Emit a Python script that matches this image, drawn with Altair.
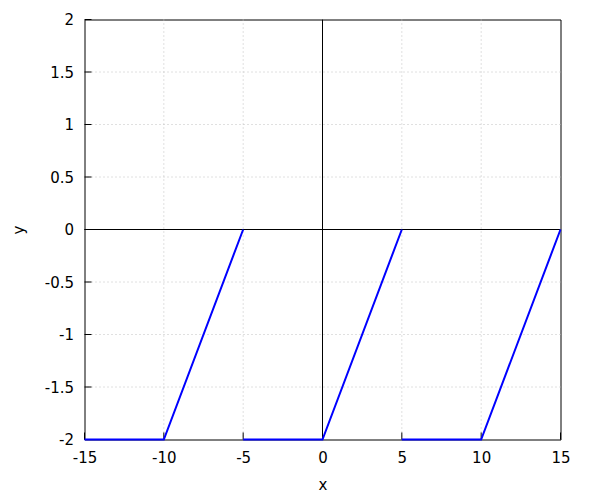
import altair as alt
import pandas as pd

# data: three segments of a sawtooth-like function
seg_id = [0, 0, 0, 1, 1, 1, 2, 2, 2]
xs = [-15, -10, -5, -5, 0, 5, 5, 10, 15]
ys = [-2, -2, 0, -2, -2, 0, -2, -2, 0]

x_ticks = [-15, -10, -5, 0, 5, 10, 15]
y_ticks = [-2, -1.5, -1, -0.5, 0, 0.5, 1, 1.5, 2]

df = pd.DataFrame({"seg": seg_id, "x": xs, "y": ys})
W, H = 476, 420
FONT = "DejaVu Sans"
FS = 15

xscale = alt.Scale(domain=[-15, 15], nice=False, zero=False)
yscale = alt.Scale(domain=[-2, 2], nice=False, zero=False)

xaxis = alt.Axis(values=x_ticks, grid=False,
                 domain=False, ticks=False, labelPadding=11, labelFontSize=FS,
                 labelFont=FONT, labelColor="black", title="x", titleFont=FONT,
                 titleFontSize=FS, titleFontWeight="normal", titlePadding=12,
                 titleColor="black",
                 labelFlush=False, labelExpr="'' + datum.value")
yaxis = alt.Axis(values=y_ticks, grid=False,
                 domain=False, ticks=False, labelPadding=11, labelFontSize=FS,
                 labelFont=FONT, labelColor="black", title="y", titleFont=FONT,
                 titleFontSize=FS, titleFontWeight="normal", titlePadding=18,
                 titleColor="black",
                 labelFlush=False, labelExpr="'' + datum.value")

base_axes = alt.Chart(df).mark_point(opacity=0).encode(
    x=alt.X("x:Q", scale=xscale, axis=xaxis),
    y=alt.Y("y:Q", scale=yscale, axis=yaxis),
)

gx = alt.Chart(pd.DataFrame({"x": x_ticks[1:-1]})).mark_rule(
    color="#c0c0c0", strokeWidth=1, strokeDash=[1, 3]).encode(x=alt.X("x:Q", scale=xscale))
gy = alt.Chart(pd.DataFrame({"y": y_ticks[1:-1]})).mark_rule(
    color="#c0c0c0", strokeWidth=1, strokeDash=[1, 3]).encode(y=alt.Y("y:Q", scale=yscale))

zx = alt.Chart(pd.DataFrame({"x": [0]})).mark_rule(color="black", strokeWidth=1).encode(
    x=alt.X("x:Q", scale=xscale))
zy = alt.Chart(pd.DataFrame({"y": [0]})).mark_rule(color="black", strokeWidth=1).encode(
    y=alt.Y("y:Q", scale=yscale))

xt = alt.Chart(pd.DataFrame({"x": x_ticks})).mark_rule(color="black", strokeWidth=1).encode(
    x=alt.X("x:Q", scale=xscale), y=alt.value(H), y2=alt.value(H - 7))
yt = alt.Chart(pd.DataFrame({"y": y_ticks})).mark_rule(color="black", strokeWidth=1).encode(
    y=alt.Y("y:Q", scale=yscale), x=alt.value(0), x2=alt.value(7))

line = alt.Chart(df).mark_line(color="#0000ff", strokeWidth=2).encode(
    x=alt.X("x:Q", scale=xscale),
    y=alt.Y("y:Q", scale=yscale),
    detail="seg:N",
)

chart = alt.layer(base_axes, gx, gy, zx, zy, xt, yt, line).properties(
    width=W, height=H,
    background="white",
    autosize=alt.AutoSizeParams(type="none"),
    padding={"left": 76.5, "top": 11.5, "right": 31, "bottom": 62},
).configure_view(stroke="black", strokeWidth=1)

chart.save("out.html", embed_options={"renderer": "svg", "actions": False})
